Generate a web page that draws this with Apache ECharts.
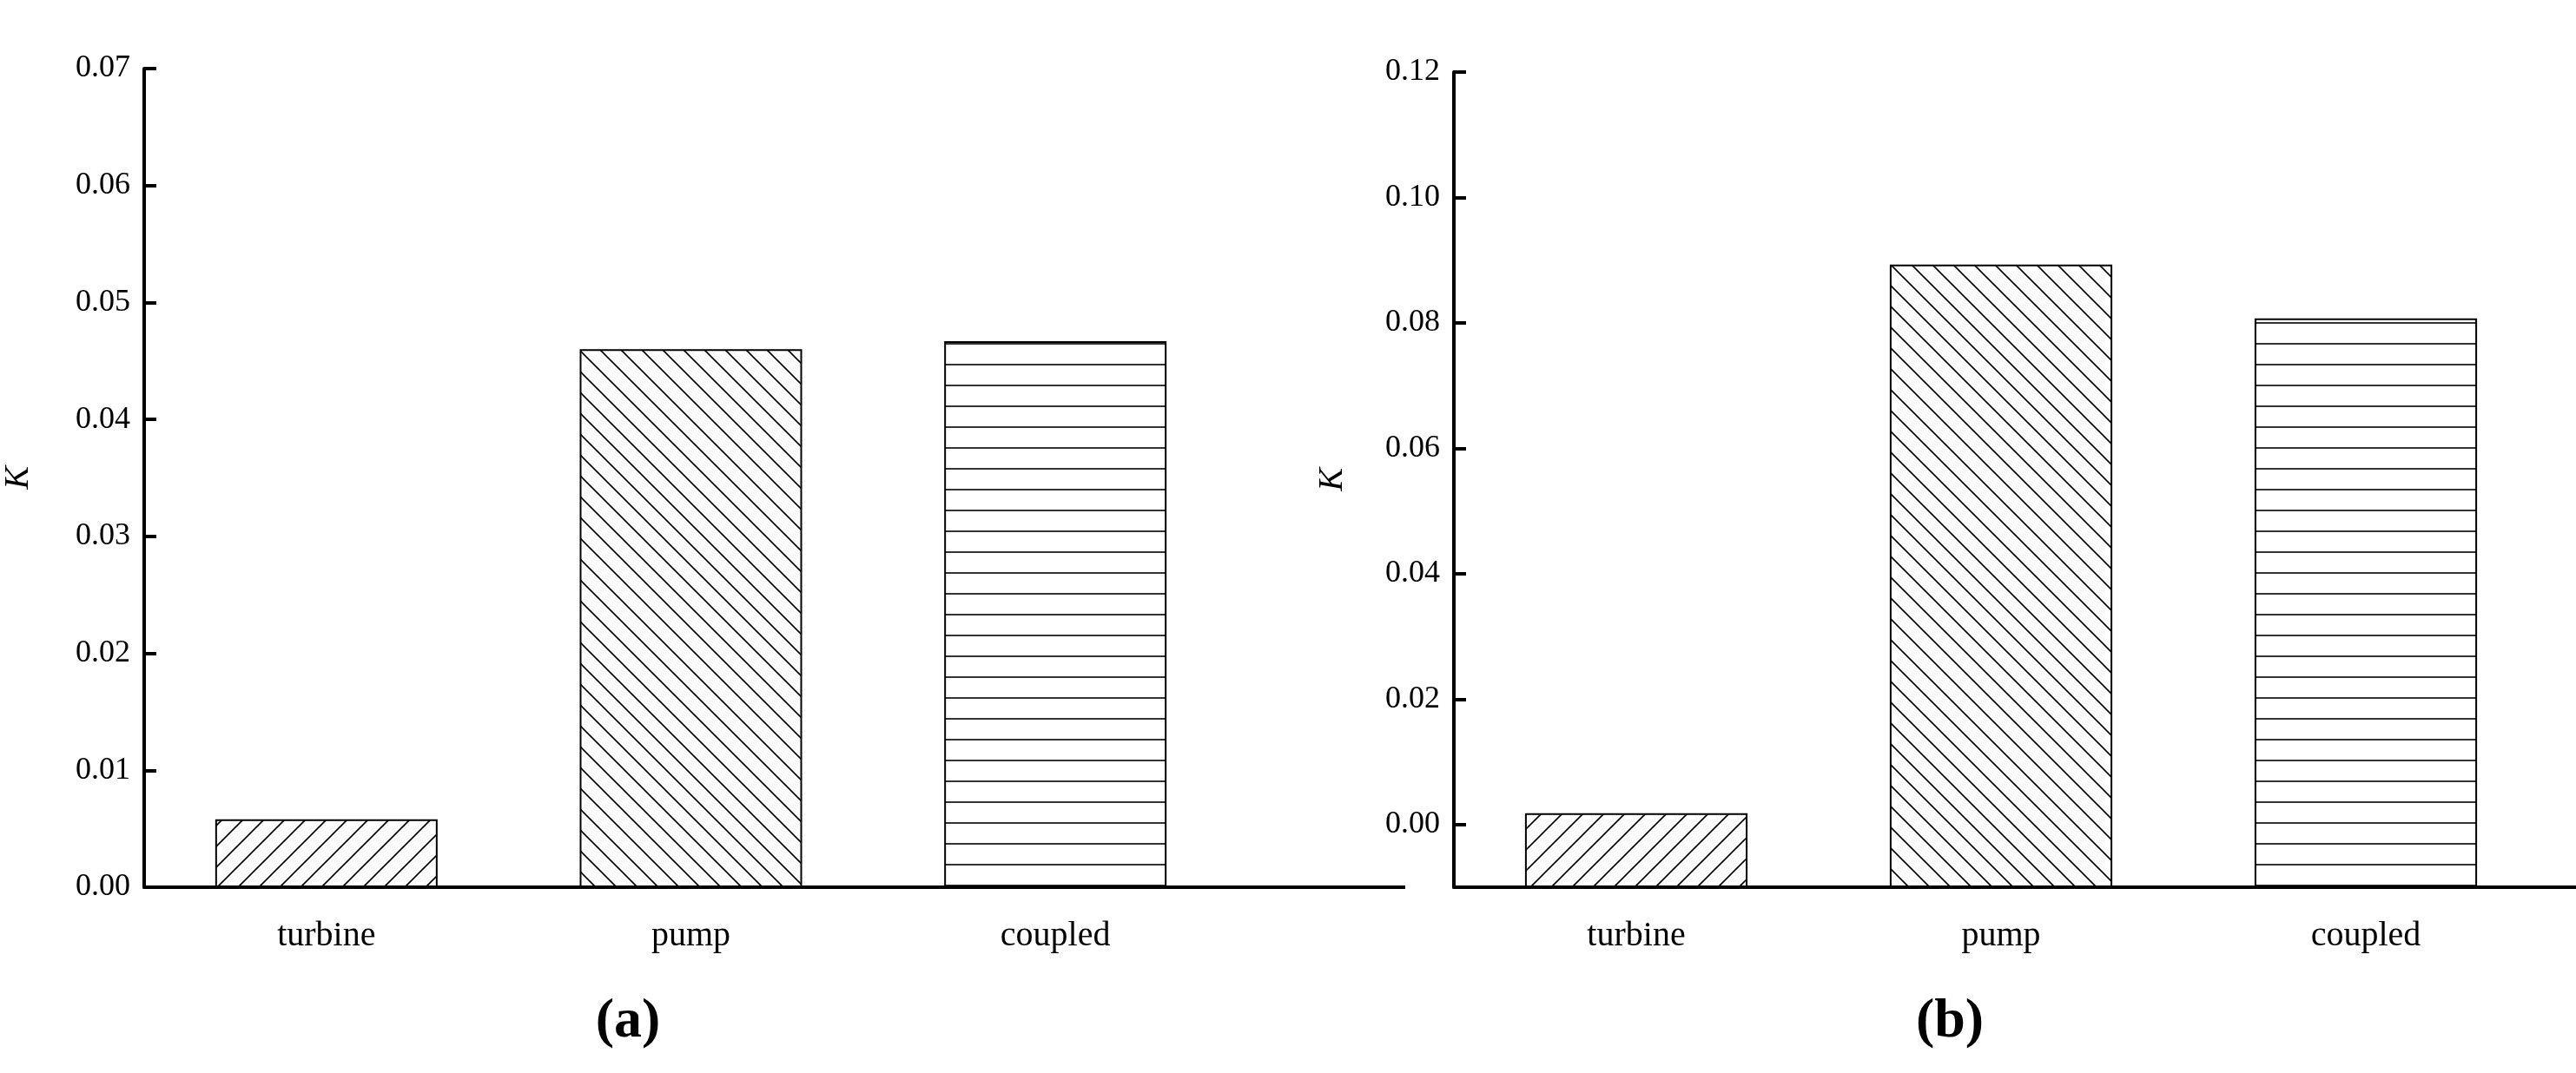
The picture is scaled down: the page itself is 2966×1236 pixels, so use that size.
<!DOCTYPE html>
<html>
<head>
<meta charset="utf-8">
<script src="https://cdn.jsdelivr.net/npm/echarts@6/dist/echarts.min.js"></script>
<style>
  html, body { margin: 0; padding: 0; background: #fff; }
  #main { width: 2966px; height: 1236px; }
</style>
</head>
<body>
<div id="main"></div>
<script>
// data
var categories = ['turbine', 'pump', 'coupled'];
var valuesA = [0.0058, 0.0460, 0.0467];
var valuesB = [0.0018, 0.0893, 0.0807];
var ticksA = [0, 0.01, 0.02, 0.03, 0.04, 0.05, 0.06, 0.07];
var ticksB = [0, 0.02, 0.04, 0.06, 0.08, 0.10, 0.12];
var baseB = -0.01; // bottom of panel (b) axis; bars start there

// hatch patterns
function hatch(kind) {
    var s = 24;
    var c = document.createElement('canvas');
    c.width = s; c.height = s;
    var g = c.getContext('2d');
    g.fillStyle = '#fff';
    g.fillRect(0, 0, s, s);
    g.strokeStyle = '#000';
    g.lineWidth = 1.6;
    g.beginPath();
    if (kind === 'h') {
        g.moveTo(0, s / 2); g.lineTo(s, s / 2);
    } else if (kind === '/') {
        g.moveTo(-s, 2 * s); g.lineTo(2 * s, -s);
        g.moveTo(-s, s); g.lineTo(s, -s);
        g.moveTo(0, 2 * s); g.lineTo(2 * s, 0);
    } else {
        g.moveTo(-s, -s); g.lineTo(2 * s, 2 * s);
        g.moveTo(-s, 0); g.lineTo(s, 2 * s);
        g.moveTo(0, -s); g.lineTo(2 * s, s);
    }
    g.stroke();
    return { image: c, repeat: 'repeat' };
}
var patterns = [hatch('/'), hatch('\\'), hatch('h')];

function barData(vals, shift) {
    return vals.map(function (v, i) {
        return { value: +(v - shift).toFixed(5), itemStyle: { color: patterns[i], borderColor: '#000', borderWidth: 2 } };
    });
}

var font = 'Liberation Serif';
function xAxis(idx) {
    return {
        type: 'category', gridIndex: idx, data: categories,
        axisLine: { onZero: false, lineStyle: { color: '#000', width: 4 } },
        axisTick: { show: false },
        axisLabel: { color: '#000', fontFamily: font, fontSize: 40, margin: 36 }
    };
}
function yAxis(idx, min, max, ticks, shift) {
    var shifted = ticks.map(function (t) { return +(t - shift).toFixed(5); });
    return {
        type: 'value', gridIndex: idx, min: min - shift, max: max - shift,
        name: 'K', nameLocation: 'middle', nameGap: idx === 0 ? 125 : 120,
        nameTextStyle: { color: '#000', fontFamily: font, fontStyle: 'italic', fontSize: 40 },
        splitLine: { show: false },
        axisLine: { show: true, lineStyle: { color: '#000', width: 4 } },
        axisTick: { show: true, inside: true, length: 14, lineStyle: { width: 4, color: '#000' }, customValues: shifted },
        axisLabel: {
            color: '#000', fontFamily: font, fontSize: 36, margin: 16, customValues: shifted,
            formatter: function (v) { return (v + shift).toFixed(2); }
        }
    };
}

var chart = echarts.init(document.getElementById('main'));
chart.setOption({
    backgroundColor: '#fff',
    animation: false,
    grid: [
        { left: 165, top: 79, width: 1260, height: 943 },
        { left: 1674, top: 83, width: 1260, height: 939 }
    ],
    graphic: [
        { type: 'line', shape: { x1: 1425, y1: 1022, x2: 1618, y2: 1022 }, style: { stroke: '#000', lineWidth: 4 } },
        { type: 'line', shape: { x1: 2934, y1: 1022, x2: 2966, y2: 1022 }, style: { stroke: '#000', lineWidth: 4 } }
    ],
    title: [
        { text: '(a)', left: 718, top: 1140, textAlign: 'center',
          textStyle: { fontFamily: font, fontWeight: 'bold', fontSize: 64, color: '#000' } },
        { text: '(b)', left: 2240, top: 1140, textAlign: 'center',
          textStyle: { fontFamily: font, fontWeight: 'bold', fontSize: 64, color: '#000' } }
    ],
    xAxis: [xAxis(0), xAxis(1)],
    yAxis: [yAxis(0, 0, 0.07, ticksA, 0), yAxis(1, baseB, 0.12, ticksB, baseB)],
    series: [
        { type: 'bar', xAxisIndex: 0, yAxisIndex: 0, barWidth: '61%', data: barData(valuesA, 0) },
        { type: 'bar', xAxisIndex: 1, yAxisIndex: 1, barWidth: '61%', data: barData(valuesB, baseB) }
    ]
});
</script>
</body>
</html>
